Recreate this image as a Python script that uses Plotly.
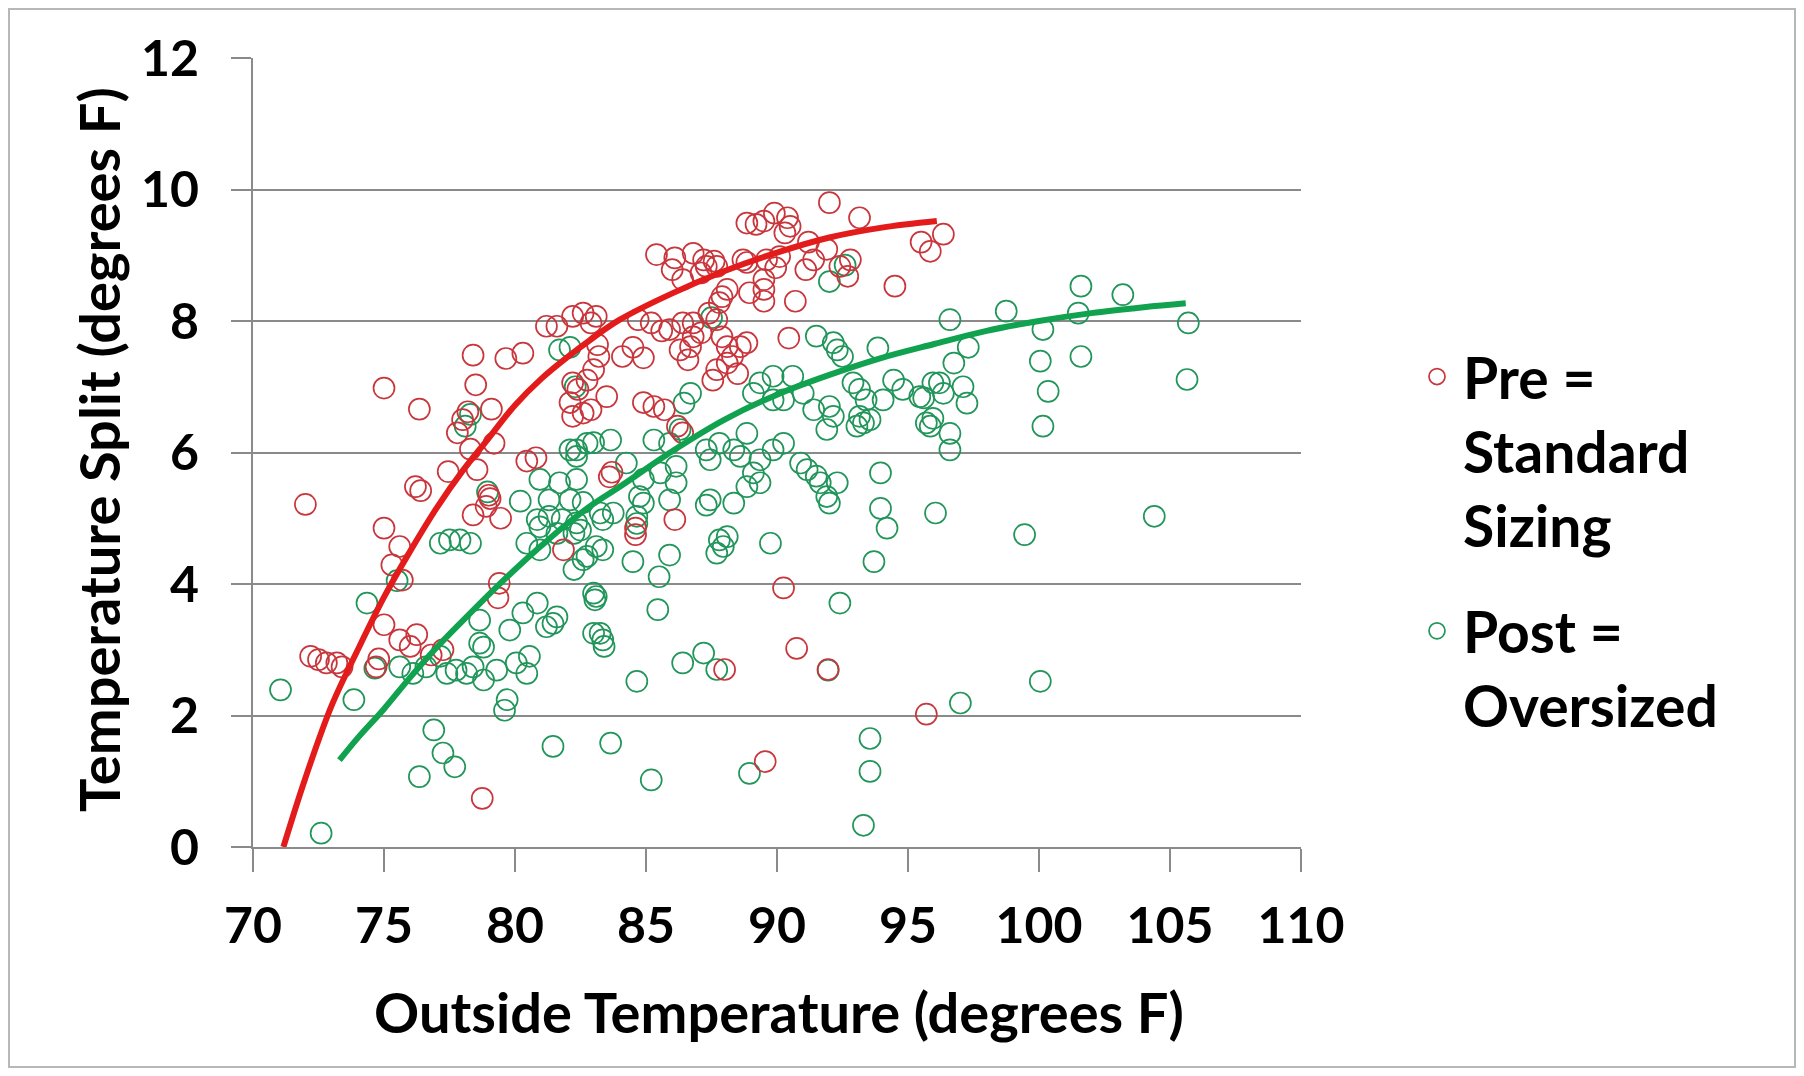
import plotly.graph_objects as go

# Pre = standard sizing: outside temperature vs. temperature split
pre_x = [72.0, 72.2, 72.5, 72.8, 73.2, 73.4, 74.7, 74.8, 75.0, 75.0,
         75.6, 75.3, 75.7, 75.0, 75.6, 76.25, 76.0, 76.35, 76.2, 76.4,
         76.8, 77.25, 77.45, 77.8, 78.0, 78.2, 78.4, 78.5, 78.55, 78.4,
         78.9, 79.2, 78.3, 79.1, 79.0, 79.05, 79.45, 79.4, 79.35, 78.75,
         79.65, 80.3, 80.45, 80.8, 81.2, 81.6, 82.2, 82.6, 82.9, 83.1,
         82.2, 82.4, 82.75, 83.0, 82.2, 82.6, 82.9, 81.85, 82.1, 83.15,
         83.2, 84.1, 84.9, 84.5, 83.5, 84.9, 85.3, 85.7, 86.2, 86.4,
         84.7, 85.2, 83.6, 83.7, 84.6, 84.6, 85.4, 86.1, 86.8, 87.2,
         87.6, 87.7, 86.0, 86.4, 87.1, 87.3, 87.9, 88.1, 87.8, 85.9,
         86.4, 86.8, 87.1, 87.4, 87.7, 87.9, 88.1, 88.3, 88.6, 88.85,
         88.1, 87.7, 87.55, 88.5, 86.3, 86.6, 86.8, 86.7, 86.1, 88.0,
         88.85, 89.2, 89.5, 89.9, 90.4, 90.5, 90.3, 88.7, 88.85, 89.6,
         90.1, 89.95, 89.5, 89.5, 89.5, 90.7, 91.1, 91.4, 91.9, 92.0,
         90.45, 88.95, 90.25, 90.75, 89.55, 95.7, 92.4, 92.8, 92.7, 93.15,
         94.5, 95.5, 95.85, 96.35, 91.95, 91.2, 85.6]
pre_y = [5.21, 2.90, 2.85, 2.80, 2.80, 2.74, 2.74, 2.86, 6.98, 4.85,
         4.57, 4.29, 4.06, 3.38, 3.15, 3.23, 3.05, 6.66, 5.48, 5.42,
         2.92, 3.00, 5.71, 6.30, 6.50, 6.62, 7.48, 7.03, 5.74, 5.05,
         5.18, 6.14, 6.05, 6.66, 5.35, 5.30, 5.00, 4.01, 3.79, 0.74,
         7.43, 7.51, 5.87, 5.92, 7.92, 7.92, 8.07, 8.12, 7.97, 8.07,
         7.06, 6.96, 7.10, 7.26, 6.55, 6.60, 6.65, 4.52, 6.76, 7.64,
         7.46, 7.46, 7.44, 7.60, 6.85, 6.76, 6.70, 6.65, 6.40, 6.30,
         8.02, 7.97, 5.63, 5.70, 4.85, 4.75, 9.01, 8.96, 9.03, 8.93,
         8.91, 8.83, 8.78, 8.63, 8.73, 8.83, 8.37, 8.48, 8.28, 7.87,
         7.97, 7.97, 7.82, 8.12, 8.02, 7.76, 7.61, 7.46, 7.61, 7.67,
         7.36, 7.26, 7.10, 7.20, 7.56, 7.41, 7.76, 7.61, 4.98, 2.70,
         9.49, 9.47, 9.52, 9.64, 9.57, 9.44, 9.34, 8.93, 8.89, 8.93,
         8.98, 8.81, 8.63, 8.48, 8.30, 8.30, 8.78, 8.93, 9.09, 9.80,
         7.74, 8.43, 3.94, 3.02, 1.30, 2.02, 8.83, 8.93, 8.68, 9.57,
         8.53, 9.20, 9.06, 9.32, 2.70, 9.20, 7.85]

# Post = oversized
post_x = [71.05, 72.6, 73.85, 74.35, 74.65, 75.6, 76.1, 76.6, 77.15, 77.4,
          75.5, 77.15, 77.5, 77.9, 78.3, 76.9, 77.25, 77.7, 76.35, 78.65,
          78.4, 78.15, 78.8, 79.3, 77.75, 79.7, 79.6, 80.05, 80.45, 80.55,
          79.8, 80.3, 80.85, 81.45, 81.6, 81.2, 78.65, 78.8, 81.45, 83.0,
          83.1, 82.25, 82.75, 83.1, 82.25, 81.6, 80.95, 80.95, 80.45, 78.1,
          78.3, 78.95, 81.7, 82.1, 82.35, 83.0, 80.95, 81.7, 82.35, 80.2,
          80.85, 81.3, 81.8, 82.35, 81.3, 82.1, 82.6, 83.0, 83.05, 83.25,
          83.35, 83.4, 84.65, 83.65, 85.2, 86.4, 87.2, 87.7, 88.95, 91.95,
          92.4, 93.55, 93.55, 93.3, 97.0, 89.75, 93.7, 94.2, 93.95, 96.05,
          92.0, 87.3, 87.8, 88.1, 87.95, 87.7, 85.9, 85.5, 85.45, 84.5,
          83.35, 82.6, 83.35, 82.5, 84.9, 85.9, 84.65, 99.45, 104.4, 100.05,
          96.6, 98.75, 101.6, 103.2, 101.5, 100.15, 105.7, 100.05, 101.6, 100.35,
          100.15, 105.65, 96.75, 96.2, 97.1, 97.25, 95.6, 95.95, 95.85, 96.6,
          96.6, 97.3, 91.5, 92.15, 92.3, 92.5, 93.85, 89.85, 90.6, 89.35,
          89.1, 91.0, 89.85, 90.25, 91.4, 92.0, 92.15, 91.9, 92.9, 93.15,
          93.4, 93.15, 93.3, 93.05, 93.55, 94.05, 94.45, 94.8, 95.45, 95.95,
          96.35, 95.7, 93.95, 88.85, 88.6, 88.35, 89.35, 89.1, 89.35, 88.85,
          89.85, 90.25, 90.9, 91.15, 91.5, 91.65, 91.9, 92.3, 87.8, 87.3,
          87.45, 86.7, 86.45, 83.65, 82.75, 82.1, 82.35, 85.3, 85.9, 83.25,
          83.75, 84.65, 84.75, 86.15, 85.55, 86.15, 87.45, 88.35, 84.25, 84.9,
          86.3, 82.3, 87.5, 92.0, 92.6]
post_y = [2.39, 0.21, 2.24, 3.71, 2.72, 2.74, 2.64, 2.74, 2.90, 2.64,
          4.05, 4.62, 4.67, 4.67, 4.62, 1.78, 1.43, 1.22, 1.07, 3.10,
          2.74, 2.64, 2.54, 2.69, 2.69, 2.24, 2.08, 2.80, 2.64, 2.90,
          3.30, 3.56, 3.71, 3.40, 3.50, 3.35, 3.45, 3.04, 1.53, 3.25,
          3.81, 4.22, 4.42, 4.57, 4.77, 4.77, 4.87, 4.52, 4.62, 6.40,
          6.58, 5.40, 7.56, 7.60, 6.04, 6.15, 5.59, 5.54, 5.59, 5.26,
          4.98, 5.03, 4.98, 4.93, 5.28, 5.28, 5.24, 3.86, 3.76, 3.25,
          3.15, 3.05, 2.52, 1.58, 1.02, 2.80, 2.95, 2.70, 1.12, 2.69,
          3.71, 1.65, 1.15, 0.33, 2.19, 4.62, 4.34, 4.85, 5.15, 5.08,
          5.23, 5.20, 4.67, 4.72, 4.57, 4.47, 4.44, 4.11, 3.61, 4.34,
          4.52, 4.37, 4.98, 4.82, 5.23, 5.28, 4.92, 4.75, 5.03, 2.52,
          8.02, 8.15, 8.53, 8.40, 8.12, 7.87, 7.97, 7.39, 7.46, 6.93,
          6.40, 7.11, 7.36, 7.06, 7.00, 6.75, 6.83, 6.52, 6.40, 6.29,
          6.04, 7.60, 7.77, 7.67, 7.56, 7.46, 7.59, 7.16, 7.16, 7.06,
          6.90, 6.90, 6.80, 6.80, 6.65, 6.70, 6.55, 6.35, 7.06, 6.96,
          6.80, 6.55, 6.45, 6.40, 6.50, 6.80, 7.10, 6.96, 6.85, 7.06,
          6.90, 6.45, 5.69, 6.29, 5.94, 6.04, 5.89, 5.69, 5.54, 5.48,
          6.04, 6.14, 5.84, 5.74, 5.64, 5.54, 5.33, 5.54, 6.14, 6.04,
          5.89, 6.90, 6.75, 6.19, 6.14, 6.04, 5.94, 6.19, 6.14, 5.08,
          5.08, 5.03, 5.33, 5.54, 5.69, 5.79, 5.28, 5.23, 5.84, 5.59,
          6.35, 7.00, 8.05, 8.60, 8.85]

# Trend curves for each group
pre_fit_x = [71.16, 72.0, 73.0, 74.0, 75.0, 76.0, 77.0, 78.0, 79.0, 80.0,
             81.0, 82.0, 83.0, 84.0, 86.0, 88.0, 90.0, 92.0, 94.0, 96.1]
pre_fit_y = [0.0, 1.05, 2.15, 3.0, 3.8, 4.5, 5.15, 5.72, 6.22, 6.72,
             7.12, 7.45, 7.75, 8.02, 8.42, 8.76, 9.04, 9.27, 9.42, 9.52]
post_fit_x = [73.3, 74.0, 75.0, 76.0, 77.0, 78.0, 79.0, 80.0, 81.0, 82.0,
              83.0, 84.0, 86.0, 88.0, 90.0, 92.0, 94.0, 96.0, 98.0, 100.0,
              102.0, 104.0, 105.6]
post_fit_y = [1.32, 1.66, 2.1, 2.58, 3.03, 3.44, 3.84, 4.22, 4.58, 4.92,
              5.22, 5.48, 6.02, 6.5, 6.88, 7.18, 7.44, 7.65, 7.85, 8.0,
              8.12, 8.21, 8.27]

x_ticks = [70, 75, 80, 85, 90, 95, 100, 105, 110]
y_ticks = [0, 2, 4, 6, 8, 10, 12]

FONT = "Lato"
GRID = "#8a8a8a"
RED_PT = "#c8363c"
GREEN_PT = "#21955a"
RED_LINE = "#e31b1b"
GREEN_LINE = "#10a24f"

fig = go.Figure()

fig.add_trace(go.Scatter(
    x=post_x, y=post_y, mode="markers", name="Post =<br>Oversized",
    legendrank=2, legendgroup="post",
    marker=dict(symbol="circle-open", size=21, color=GREEN_PT,
                line=dict(width=1.7, color=GREEN_PT)),
))
fig.add_trace(go.Scatter(
    x=pre_x, y=pre_y, mode="markers", name="Pre =<br>Standard<br>Sizing",
    legendrank=1, legendgroup="pre",
    marker=dict(symbol="circle-open", size=21, color=RED_PT,
                line=dict(width=1.7, color=RED_PT)),
))
fig.add_trace(go.Scatter(
    x=post_fit_x, y=post_fit_y, mode="lines", showlegend=False,
    line=dict(color=GREEN_LINE, width=6, shape="spline"), hoverinfo="skip",
))
fig.add_trace(go.Scatter(
    x=pre_fit_x, y=pre_fit_y, mode="lines", showlegend=False,
    line=dict(color=RED_LINE, width=6, shape="spline"), hoverinfo="skip",
))

L, R, T, B = 253, 503, 58, 229
W, H = 1804, 1076
pw, ph = W - L - R, H - T - B


def px_x(p):
    return (p - L) / pw


def px_y(p):
    return (H - B - p) / ph


tick_font = dict(family=FONT, size=50, color="#000000", weight="bold")
title_font = dict(family=FONT, size=56, color="#000000", weight="bold")

fig.update_layout(
    width=W, height=H,
    margin=dict(l=L, r=R, t=T, b=B, autoexpand=False),
    paper_bgcolor="white", plot_bgcolor="white",
    font=dict(family=FONT, color="#000000"),
    showlegend=True,
    legend=dict(
        x=px_x(1411), y=px_y(333), xanchor="left", yanchor="top",
        font=dict(family=FONT, size=57, color="#000000", weight="bold"),
        valign="top", tracegroupgap=29, itemsizing="trace", itemwidth=42,
        bgcolor="rgba(0,0,0,0)",
    ),
    xaxis=dict(
        range=[70, 110], tickvals=x_ticks, ticktext=[str(v) for v in x_ticks],
        showgrid=False, zeroline=False,
        showline=True, linecolor=GRID, linewidth=2,
        ticks="outside", ticklen=23, tickwidth=2, tickcolor=GRID,
        tickfont=tick_font, ticklabelstandoff=11,
    ),
    yaxis=dict(
        range=[0, 12], tickvals=y_ticks, ticktext=[str(v) for v in y_ticks],
        showgrid=True, gridcolor=GRID, gridwidth=2, zeroline=False,
        showline=True, linecolor=GRID, linewidth=2,
        ticks="outside", ticklen=20, tickwidth=2, tickcolor=GRID,
        tickfont=tick_font, ticklabelstandoff=22,
    ),
    annotations=[
        dict(text="Outside Temperature (degrees F)", xref="paper", yref="paper",
             x=px_x(779), y=px_y(1012), xanchor="center", yanchor="middle",
             showarrow=False, font=title_font),
        dict(text="Temperature Split (degrees F)", xref="paper", yref="paper",
             x=px_x(98), y=px_y(450), xanchor="center", yanchor="middle",
             textangle=-90, showarrow=False, font=title_font),
    ],
    shapes=[
        dict(type="rect", xref="paper", yref="paper",
             x0=px_x(9), x1=px_x(1795), y0=px_y(1067), y1=px_y(9),
             line=dict(color="#b8b8b8", width=2), fillcolor="rgba(0,0,0,0)",
             layer="below"),
    ],
)

fig.write_html("out.html")
